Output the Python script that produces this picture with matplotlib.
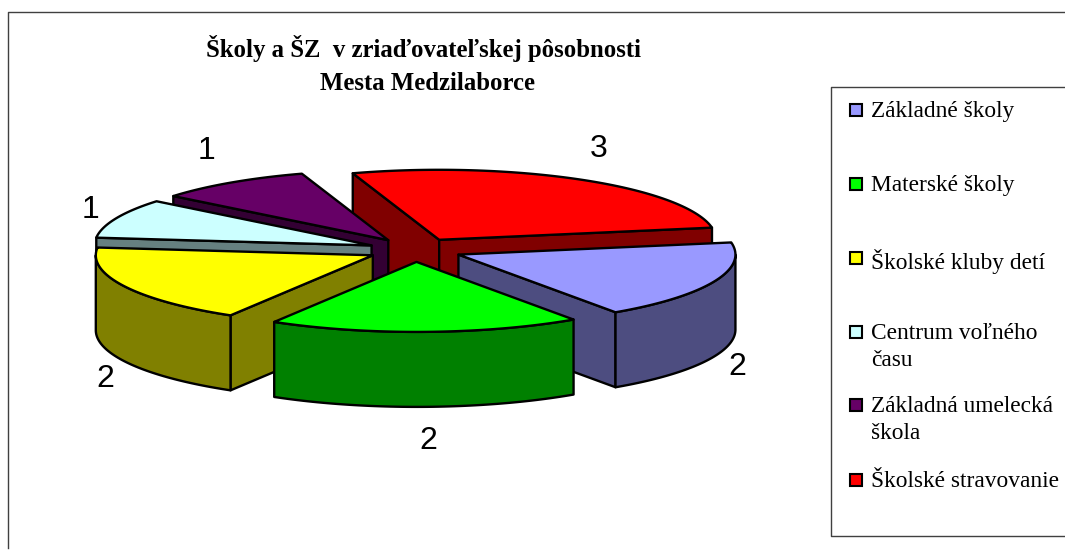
import numpy as np
import matplotlib
matplotlib.use("Agg")
import matplotlib.pyplot as plt
from matplotlib.patches import Polygon, Rectangle

# chart data
categories = ["Základné školy", "Materské školy", "Školské kluby detí",
              "Centrum voľného\nčasu", "Základná umelecká\nškola", "Školské stravovanie"]
values = [2, 2, 2, 1, 1, 3]
top_colors = ["#9999FF", "#00FF00", "#FFFF00", "#CCFFFF", "#660066", "#FF0000"]
side_colors = ["#4D4D80", "#008000", "#808000", "#668080", "#330033", "#800000"]

# layout, in pixels of the picture
label_xy = [(737, 367), (428, 441), (105, 379), (90, 210), (207, 151), (599, 149)]
legend_y = [110, 184, 258, 332, 405, 480]
cx, cy = 415, 250
rx, ry = 277, 70
depth = 75
explode = 0.17
start_angle = 80

fig = plt.figure(figsize=(10.65, 5.59), dpi=100)
ax = fig.add_axes([0, 0, 1, 1])
ax.set_xlim(0, 1065)
ax.set_ylim(559, 0)
ax.axis("off")


def rim(t, ox, oy):
    t = np.radians(t)
    return np.column_stack([ox + rx * np.sin(t), oy - ry * np.cos(t)])


def face(pts, color, z):
    ax.add_patch(Polygon(pts, closed=True, facecolor=color, edgecolor="black",
                         linewidth=1.7, joinstyle="round", zorder=z))


def draw_wedge(t0, t1, top, side, z):
    mid = np.radians((t0 + t1) / 2)
    ox = cx + explode * rx * np.sin(mid)
    oy = cy - explode * ry * np.cos(mid)
    apex = np.array([ox, oy])
    down = np.array([0, depth])

    # cut faces, only those turned to the viewer
    if np.sin(np.radians(t0)) < 0:
        p = rim([t0], ox, oy)[0]
        face([apex, p, p + down, apex + down], side, z)
    if np.sin(np.radians(t1)) > 0:
        p = rim([t1], ox, oy)[0]
        face([apex, p, p + down, apex + down], side, z)

    # outer wall, front half of the circle
    for lo, hi in [(90, 270), (450, 630), (-270, -90)]:
        a, b = max(t0, lo), min(t1, hi)
        if a < b:
            arc = rim(np.linspace(a, b, 60), ox, oy)
            face(np.vstack([arc, arc[::-1] + down]), side, z)

    arc = rim(np.linspace(t0, t1, 80), ox, oy)
    face(np.vstack([apex, arc]), top, z)


# wedges run clockwise from the start angle
sweeps = 360 * np.array(values) / sum(values)
starts = start_angle + np.concatenate([[0], np.cumsum(sweeps)[:-1]])
paint_order = [5, 4, 3, 0, 2, 1]  # back to front
for z, i in enumerate(paint_order):
    draw_wedge(starts[i], starts[i] + sweeps[i], top_colors[i], side_colors[i], z + 2)

for v, (x, y) in zip(values, label_xy):
    ax.text(x, y, str(v), family="Liberation Sans", fontsize=23, ha="center", va="center", zorder=20)

ax.text(423, 49, "Školy a ŠZ  v zriaďovateľskej pôsobnosti", family="Liberation Serif",
        fontsize=17.8, fontweight="bold", ha="center", va="center")
ax.text(427, 84, "Mesta Medzilaborce", family="Liberation Serif",
        fontsize=17.8, fontweight="bold", ha="center", va="center")

# outer frame and legend box
ax.plot([8, 8, 1065], [548, 12, 12], color="#404040", lw=1, clip_on=False)
ax.plot([1065, 831, 831, 1065], [86.5, 86.5, 536, 536], color="#404040", lw=1)
for name, color, y in zip(categories, top_colors, legend_y):
    ax.add_patch(Rectangle((850, y - 6), 12, 12, facecolor=color, edgecolor="black", linewidth=1.5))
    ax.text(871, y - 9, name, family="Liberation Serif", fontsize=16.8, ha="left", va="top",
            linespacing=1.4)

fig.savefig("out.png", dpi=100)
